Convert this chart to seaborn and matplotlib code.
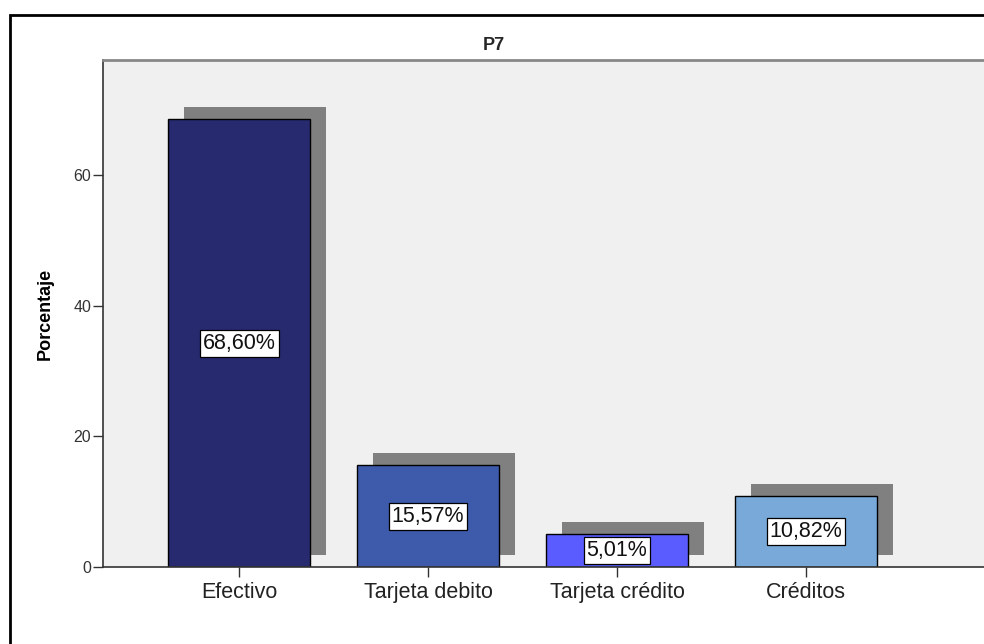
"""Recreate SPSS-style bar chart for P7 (medio de pago)."""
import matplotlib
matplotlib.use('Agg')
import matplotlib.pyplot as plt
import matplotlib.transforms as mtransforms
from matplotlib.patches import Rectangle
import seaborn as sns
import pandas as pd

# Data
categorias = ['Efectivo', 'Tarjeta debito', 'Tarjeta crédito', 'Créditos']
porcentajes = [68.60, 15.57, 5.01, 10.82]
etiquetas = ['68,60%', '15,57%', '5,01%', '10,82%']
colores = ['#272a6f', '#3d5aab', '#5a5cff', '#78a9d9']
y_ticks = [0, 20, 40, 60]

df = pd.DataFrame({'categoria': categorias, 'porcentaje': porcentajes})

sns.set_theme(style='white')
plt.rcParams['font.family'] = ['Liberation Sans', 'DejaVu Sans']

W, H, DPI = 984, 644, 100
fig = plt.figure(figsize=(W / DPI, H / DPI), dpi=DPI)

# axes in pixel units: left 103, top 60, bottom 567, right runs past the image
left, top, bottom, right = 103, 60, 567, 1010
ax = fig.add_axes([left / W, 1 - bottom / H, (right - left) / W, (bottom - top) / H])
ax.set_facecolor('#f0f0f0')

# Shadows: same bars, shifted right and up
shadow_tr = mtransforms.offset_copy(ax.transData, fig=fig, x=16, y=12.5, units='dots')
sns.barplot(data=df, x='categoria', y='porcentaje', color='#808080', width=0.75,
            saturation=1, ax=ax, zorder=1)
for p in ax.patches:
    p.set_transform(shadow_tr)
    p.set_edgecolor('none')

sns.barplot(data=df, x='categoria', y='porcentaje', hue='categoria', palette=colores,
            width=0.75, saturation=1, legend=False, ax=ax, zorder=2,
            edgecolor='black', linewidth=1.0)

# Value labels
for i, (v, txt) in enumerate(zip(porcentajes, etiquetas)):
    ax.text(i, v / 2, txt, ha='center', va='center', fontsize=15.5, color='#111111', zorder=5,
            bbox=dict(boxstyle='square,pad=0.14', facecolor='white', edgecolor='black', linewidth=0.9))

ax.set_xlim(-0.72, (right - 239) / 189)
ax.set_ylim(0, 77.7)
ax.set_yticks(y_ticks)
ax.set_yticklabels([str(t) for t in y_ticks], fontsize=11.5, color='#333333')
ax.tick_params(axis='y', direction='out', length=7, width=1, color='#333333', pad=1.5, left=True)
ax.tick_params(axis='x', direction='out', length=7, width=1, color='#333333', pad=3.5, bottom=True,
               labelsize=15.5, labelcolor='#222222')
ax.set_xlabel('')
ax.set_ylabel('Porcentaje', fontsize=13, fontweight='bold', labelpad=14, color='black')

for side in ['left', 'bottom']:
    ax.spines[side].set_color('#333333')
    ax.spines[side].set_linewidth(1.2)
ax.spines['top'].set_color('#888888')
ax.spines['top'].set_linewidth(2)
ax.spines['right'].set_visible(False)

fig.text(494 / W, 1 - 45 / H, 'P7', ha='center', va='center', fontsize=13, fontweight='bold')

# Outer frame of the chart (extends past the image at right and bottom)
frame = Rectangle((10 / W, -0.1), 1.2, 1 - 15 / H + 0.1, transform=fig.transFigure,
                  fill=False, edgecolor='black', linewidth=2, zorder=10)
fig.patches.append(frame)

fig.savefig('out.png', dpi=DPI)
plt.close(fig)
